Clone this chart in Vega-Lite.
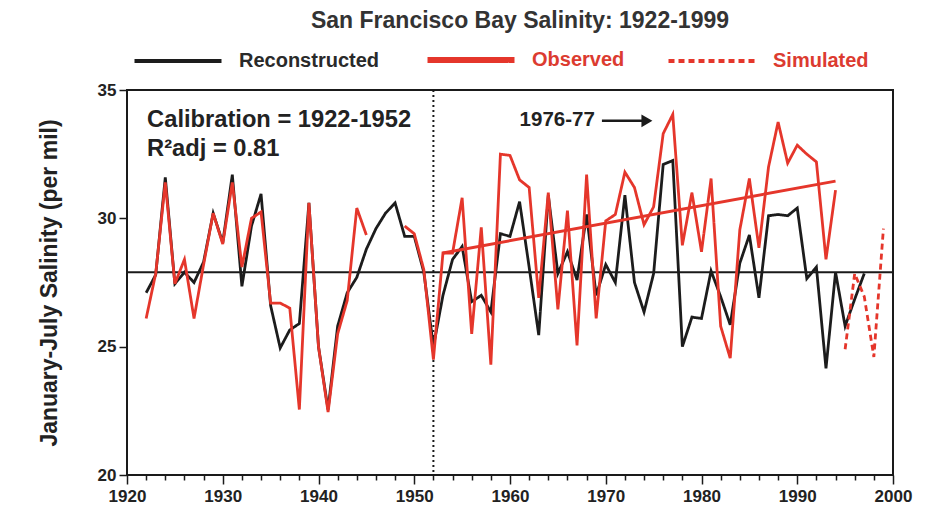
{
  "$schema": "https://vega.github.io/schema/vega-lite/v6.json",
  "width": 766,
  "height": 385,
  "autosize": {"type": "none"},
  "padding": {"left": 127, "top": 90, "right": 40, "bottom": 46},
  "background": "white",
  "config": {
    "font": "Liberation Sans",
    "view": {"stroke": "#1a1a1a", "strokeWidth": 2},
    "legend": {
      "symbolType": "stroke",
      "symbolSize": 7569,
      "symbolStrokeWidth": 4,
      "labelFontSize": 20,
      "labelFontWeight": "bold",
      "labelOffset": 51,
      "columnPadding": 35,
      "labelLimit": 300
    }
  },
  "title": {
    "text": "San Francisco Bay Salinity: 1922-1999",
    "fontSize": 23,
    "fontWeight": "bold",
    "color": "#333333",
    "anchor": "middle",
    "offset": 17,
    "dx": 10
  },
  "datasets": {
    "series": [
      {"year": 1922, "value": 27.1, "series": "Reconstructed", "seg": "a"},
      {"year": 1923, "value": 27.8, "series": "Reconstructed", "seg": "a"},
      {"year": 1924, "value": 31.6, "series": "Reconstructed", "seg": "a"},
      {"year": 1925, "value": 27.45, "series": "Reconstructed", "seg": "a"},
      {"year": 1926, "value": 27.9, "series": "Reconstructed", "seg": "a"},
      {"year": 1927, "value": 27.5, "series": "Reconstructed", "seg": "a"},
      {"year": 1928, "value": 28.3, "series": "Reconstructed", "seg": "a"},
      {"year": 1929, "value": 30.2, "series": "Reconstructed", "seg": "a"},
      {"year": 1930, "value": 29.05, "series": "Reconstructed", "seg": "a"},
      {"year": 1931, "value": 31.7, "series": "Reconstructed", "seg": "a"},
      {"year": 1932, "value": 27.35, "series": "Reconstructed", "seg": "a"},
      {"year": 1933, "value": 29.7, "series": "Reconstructed", "seg": "a"},
      {"year": 1934, "value": 30.95, "series": "Reconstructed", "seg": "a"},
      {"year": 1935, "value": 26.6, "series": "Reconstructed", "seg": "a"},
      {"year": 1936, "value": 24.95, "series": "Reconstructed", "seg": "a"},
      {"year": 1937, "value": 25.65, "series": "Reconstructed", "seg": "a"},
      {"year": 1938, "value": 25.9, "series": "Reconstructed", "seg": "a"},
      {"year": 1939, "value": 30.6, "series": "Reconstructed", "seg": "a"},
      {"year": 1940, "value": 25.0, "series": "Reconstructed", "seg": "a"},
      {"year": 1941, "value": 22.55, "series": "Reconstructed", "seg": "a"},
      {"year": 1942, "value": 25.8, "series": "Reconstructed", "seg": "a"},
      {"year": 1943, "value": 27.1, "series": "Reconstructed", "seg": "a"},
      {"year": 1944, "value": 27.7, "series": "Reconstructed", "seg": "a"},
      {"year": 1945, "value": 28.8, "series": "Reconstructed", "seg": "a"},
      {"year": 1946, "value": 29.6, "series": "Reconstructed", "seg": "a"},
      {"year": 1947, "value": 30.2, "series": "Reconstructed", "seg": "a"},
      {"year": 1948, "value": 30.6, "series": "Reconstructed", "seg": "a"},
      {"year": 1949, "value": 29.3, "series": "Reconstructed", "seg": "a"},
      {"year": 1950, "value": 29.3, "series": "Reconstructed", "seg": "a"},
      {"year": 1951, "value": 27.9, "series": "Reconstructed", "seg": "a"},
      {"year": 1952, "value": 25.0, "series": "Reconstructed", "seg": "a"},
      {"year": 1953, "value": 27.0, "series": "Reconstructed", "seg": "a"},
      {"year": 1954, "value": 28.4, "series": "Reconstructed", "seg": "a"},
      {"year": 1955, "value": 28.9, "series": "Reconstructed", "seg": "a"},
      {"year": 1956, "value": 26.75, "series": "Reconstructed", "seg": "a"},
      {"year": 1957, "value": 27.0, "series": "Reconstructed", "seg": "a"},
      {"year": 1958, "value": 26.35, "series": "Reconstructed", "seg": "a"},
      {"year": 1959, "value": 29.4, "series": "Reconstructed", "seg": "a"},
      {"year": 1960, "value": 29.3, "series": "Reconstructed", "seg": "a"},
      {"year": 1961, "value": 30.65, "series": "Reconstructed", "seg": "a"},
      {"year": 1962, "value": 28.1, "series": "Reconstructed", "seg": "a"},
      {"year": 1963, "value": 25.45, "series": "Reconstructed", "seg": "a"},
      {"year": 1964, "value": 30.9, "series": "Reconstructed", "seg": "a"},
      {"year": 1965, "value": 27.85, "series": "Reconstructed", "seg": "a"},
      {"year": 1966, "value": 28.7, "series": "Reconstructed", "seg": "a"},
      {"year": 1967, "value": 27.6, "series": "Reconstructed", "seg": "a"},
      {"year": 1968, "value": 30.15, "series": "Reconstructed", "seg": "a"},
      {"year": 1969, "value": 27.0, "series": "Reconstructed", "seg": "a"},
      {"year": 1970, "value": 28.2, "series": "Reconstructed", "seg": "a"},
      {"year": 1971, "value": 27.5, "series": "Reconstructed", "seg": "a"},
      {"year": 1972, "value": 30.9, "series": "Reconstructed", "seg": "a"},
      {"year": 1973, "value": 27.5, "series": "Reconstructed", "seg": "a"},
      {"year": 1974, "value": 26.35, "series": "Reconstructed", "seg": "a"},
      {"year": 1975, "value": 27.85, "series": "Reconstructed", "seg": "a"},
      {"year": 1976, "value": 32.1, "series": "Reconstructed", "seg": "a"},
      {"year": 1977, "value": 32.25, "series": "Reconstructed", "seg": "a"},
      {"year": 1978, "value": 25.0, "series": "Reconstructed", "seg": "a"},
      {"year": 1979, "value": 26.15, "series": "Reconstructed", "seg": "a"},
      {"year": 1980, "value": 26.1, "series": "Reconstructed", "seg": "a"},
      {"year": 1981, "value": 27.95, "series": "Reconstructed", "seg": "a"},
      {"year": 1982, "value": 26.95, "series": "Reconstructed", "seg": "a"},
      {"year": 1983, "value": 25.85, "series": "Reconstructed", "seg": "a"},
      {"year": 1984, "value": 28.25, "series": "Reconstructed", "seg": "a"},
      {"year": 1985, "value": 29.35, "series": "Reconstructed", "seg": "a"},
      {"year": 1986, "value": 26.9, "series": "Reconstructed", "seg": "a"},
      {"year": 1987, "value": 30.1, "series": "Reconstructed", "seg": "a"},
      {"year": 1988, "value": 30.15, "series": "Reconstructed", "seg": "a"},
      {"year": 1989, "value": 30.1, "series": "Reconstructed", "seg": "a"},
      {"year": 1990, "value": 30.4, "series": "Reconstructed", "seg": "a"},
      {"year": 1991, "value": 27.65, "series": "Reconstructed", "seg": "a"},
      {"year": 1992, "value": 28.1, "series": "Reconstructed", "seg": "a"},
      {"year": 1993, "value": 24.15, "series": "Reconstructed", "seg": "a"},
      {"year": 1994, "value": 27.9, "series": "Reconstructed", "seg": "a"},
      {"year": 1995, "value": 25.8, "series": "Reconstructed", "seg": "a"},
      {"year": 1996, "value": 26.85, "series": "Reconstructed", "seg": "a"},
      {"year": 1997, "value": 27.85, "series": "Reconstructed", "seg": "a"},
      {"year": 1922, "value": 26.1, "series": "Observed", "seg": "b"},
      {"year": 1923, "value": 27.85, "series": "Observed", "seg": "b"},
      {"year": 1924, "value": 31.4, "series": "Observed", "seg": "b"},
      {"year": 1925, "value": 27.45, "series": "Observed", "seg": "b"},
      {"year": 1926, "value": 28.4, "series": "Observed", "seg": "b"},
      {"year": 1927, "value": 26.1, "series": "Observed", "seg": "b"},
      {"year": 1928, "value": 28.2, "series": "Observed", "seg": "b"},
      {"year": 1929, "value": 30.2, "series": "Observed", "seg": "b"},
      {"year": 1930, "value": 29.0, "series": "Observed", "seg": "b"},
      {"year": 1931, "value": 31.4, "series": "Observed", "seg": "b"},
      {"year": 1932, "value": 28.1, "series": "Observed", "seg": "b"},
      {"year": 1933, "value": 30.0, "series": "Observed", "seg": "b"},
      {"year": 1934, "value": 30.25, "series": "Observed", "seg": "b"},
      {"year": 1935, "value": 26.7, "series": "Observed", "seg": "b"},
      {"year": 1936, "value": 26.7, "series": "Observed", "seg": "b"},
      {"year": 1937, "value": 26.5, "series": "Observed", "seg": "b"},
      {"year": 1938, "value": 22.55, "series": "Observed", "seg": "b"},
      {"year": 1939, "value": 30.6, "series": "Observed", "seg": "b"},
      {"year": 1940, "value": 25.0, "series": "Observed", "seg": "b"},
      {"year": 1941, "value": 22.45, "series": "Observed", "seg": "b"},
      {"year": 1942, "value": 25.5, "series": "Observed", "seg": "b"},
      {"year": 1943, "value": 26.8, "series": "Observed", "seg": "b"},
      {"year": 1944, "value": 30.4, "series": "Observed", "seg": "b"},
      {"year": 1945, "value": 29.35, "series": "Observed", "seg": "b"},
      {"year": 1949, "value": 29.7, "series": "Observed", "seg": "c"},
      {"year": 1950, "value": 29.4, "series": "Observed", "seg": "c"},
      {"year": 1951, "value": 28.0, "series": "Observed", "seg": "c"},
      {"year": 1952, "value": 24.5, "series": "Observed", "seg": "c"},
      {"year": 1953, "value": 28.65, "series": "Observed", "seg": "c"},
      {"year": 1954, "value": 28.65, "series": "Observed", "seg": "c"},
      {"year": 1955, "value": 30.8, "series": "Observed", "seg": "c"},
      {"year": 1956, "value": 25.5, "series": "Observed", "seg": "c"},
      {"year": 1957, "value": 29.65, "series": "Observed", "seg": "c"},
      {"year": 1958, "value": 24.3, "series": "Observed", "seg": "c"},
      {"year": 1959, "value": 32.5, "series": "Observed", "seg": "c"},
      {"year": 1960, "value": 32.45, "series": "Observed", "seg": "c"},
      {"year": 1961, "value": 31.5, "series": "Observed", "seg": "c"},
      {"year": 1962, "value": 31.2, "series": "Observed", "seg": "c"},
      {"year": 1963, "value": 26.9, "series": "Observed", "seg": "c"},
      {"year": 1964, "value": 31.0, "series": "Observed", "seg": "c"},
      {"year": 1965, "value": 26.45, "series": "Observed", "seg": "c"},
      {"year": 1966, "value": 30.3, "series": "Observed", "seg": "c"},
      {"year": 1967, "value": 25.05, "series": "Observed", "seg": "c"},
      {"year": 1968, "value": 31.7, "series": "Observed", "seg": "c"},
      {"year": 1969, "value": 26.1, "series": "Observed", "seg": "c"},
      {"year": 1970, "value": 29.9, "series": "Observed", "seg": "c"},
      {"year": 1971, "value": 30.15, "series": "Observed", "seg": "c"},
      {"year": 1972, "value": 31.8, "series": "Observed", "seg": "c"},
      {"year": 1973, "value": 31.2, "series": "Observed", "seg": "c"},
      {"year": 1974, "value": 29.75, "series": "Observed", "seg": "c"},
      {"year": 1975, "value": 30.45, "series": "Observed", "seg": "c"},
      {"year": 1976, "value": 33.3, "series": "Observed", "seg": "c"},
      {"year": 1977, "value": 34.05, "series": "Observed", "seg": "c"},
      {"year": 1978, "value": 28.95, "series": "Observed", "seg": "c"},
      {"year": 1979, "value": 31.0, "series": "Observed", "seg": "c"},
      {"year": 1980, "value": 28.7, "series": "Observed", "seg": "c"},
      {"year": 1981, "value": 31.55, "series": "Observed", "seg": "c"},
      {"year": 1982, "value": 25.8, "series": "Observed", "seg": "c"},
      {"year": 1983, "value": 24.55, "series": "Observed", "seg": "c"},
      {"year": 1984, "value": 29.55, "series": "Observed", "seg": "c"},
      {"year": 1985, "value": 31.55, "series": "Observed", "seg": "c"},
      {"year": 1986, "value": 28.85, "series": "Observed", "seg": "c"},
      {"year": 1987, "value": 32.0, "series": "Observed", "seg": "c"},
      {"year": 1988, "value": 33.75, "series": "Observed", "seg": "c"},
      {"year": 1989, "value": 32.15, "series": "Observed", "seg": "c"},
      {"year": 1990, "value": 32.85, "series": "Observed", "seg": "c"},
      {"year": 1991, "value": 32.5, "series": "Observed", "seg": "c"},
      {"year": 1992, "value": 32.2, "series": "Observed", "seg": "c"},
      {"year": 1993, "value": 28.4, "series": "Observed", "seg": "c"},
      {"year": 1994, "value": 31.1, "series": "Observed", "seg": "c"},
      {"year": 1995, "value": 24.9, "series": "Simulated", "seg": "d"},
      {"year": 1996, "value": 27.85, "series": "Simulated", "seg": "d"},
      {"year": 1997, "value": 26.95, "series": "Simulated", "seg": "d"},
      {"year": 1998, "value": 24.6, "series": "Simulated", "seg": "d"},
      {"year": 1999, "value": 29.6, "series": "Simulated", "seg": "d"}
    ]
  },
  "resolve": {"axis": {"x": "independent"}},
  "layer": [
    {
      "data": {"values": [{"mean": 27.9}]},
      "mark": {"type": "rule", "color": "#1a1a1a", "strokeWidth": 2},
      "encoding": {"y": {"field": "mean", "type": "quantitative", "scale": {"domain": [20, 35], "nice": false, "zero": false}}}
    },
    {
      "data": {"values": [{"year": 1952}]},
      "mark": {"type": "rule", "color": "#1a1a1a", "strokeWidth": 2, "strokeDash": [2, 3]},
      "encoding": {
        "x": {
          "field": "year", "type": "quantitative",
          "scale": {"domain": [1920, 2000], "nice": false, "zero": false},
          "axis": {"orient": "bottom", "values": [1922, 1924, 1926, 1928, 1932, 1934, 1936, 1938, 1942, 1944, 1946, 1948, 1952, 1954, 1956, 1958, 1962, 1964, 1966, 1968, 1972, 1974, 1976, 1978, 1982, 1984, 1986, 1988, 1992, 1994, 1996, 1998], "labels": false, "domain": false, "grid": false, "tickSize": 5, "tickWidth": 1.5, "tickColor": "#1a1a1a", "title": null}
        }
      }
    },
    {
      "data": {"name": "series"},
      "transform": [{"filter": "datum.series === 'Reconstructed'"}],
      "mark": {"type": "line", "strokeWidth": 2.8, "strokeJoin": "miter"},
      "encoding": {
        "x": {
          "field": "year", "type": "quantitative",
          "axis": {"orient": "bottom", "values": [1920, 1930, 1940, 1950, 1960, 1970, 1980, 1990, 2000], "format": "d", "domain": false, "grid": false, "tickSize": 9, "tickWidth": 1.5, "tickColor": "#1a1a1a", "labelFontSize": 17, "labelFontWeight": "bold", "labelColor": "#222222", "labelPadding": 4, "labelFlush": false, "title": null}
        },
        "y": {
          "field": "value", "type": "quantitative",
          "axis": {"values": [20, 25, 30, 35], "domain": false, "grid": false, "tickSize": 8, "tickWidth": 1.5, "tickColor": "#1a1a1a", "labelFontSize": 17, "labelFontWeight": "bold", "labelColor": "#222222", "labelPadding": 3, "title": "January-July Salinity (per mil)", "titleFontSize": 23, "titleFontWeight": "bold", "titleColor": "#222222", "titlePadding": 36}
        },
        "color": {
          "field": "series", "type": "nominal",
          "scale": {"domain": ["Reconstructed", "Observed", "Simulated"], "range": ["#1c1c1c", "#e5362b", "#e5362b"]},
          "legend": {
            "title": null, "orient": "none", "direction": "horizontal", "legendX": 41, "legendY": -40,
            "encode": {
              "labels": {"update": {"fill": {"signal": "datum.label === 'Reconstructed' ? '#2a2a2a' : '#dc3b30'"}}},
              "symbols": {"update": {"stroke": [{"test": "datum.label === 'Observed'", "value": "#3a3a3a"}, {"test": "datum.label === 'Simulated'", "value": "#e06a5a"}, {"value": "#2a2a2a"}], "strokeWidth": {"signal": "datum.label === 'Observed' ? 6 : 4"}}}
            }
          }
        },
        "strokeDash": {
          "field": "series", "type": "nominal",
          "scale": {"domain": ["Reconstructed", "Observed", "Simulated"], "range": [[1, 0], [1, 0], [6, 4]]},
          "legend": {"title": null, "orient": "none", "direction": "horizontal", "legendX": 41, "legendY": -40}
        },
        "detail": {"field": "seg"}
      }
    },
    {
      "data": {"name": "series"},
      "transform": [{"filter": "datum.series !== 'Reconstructed'"}],
      "mark": {"type": "line", "strokeWidth": 2.8, "strokeJoin": "miter"},
      "encoding": {
        "x": {"field": "year", "type": "quantitative", "axis": null},
        "y": {"field": "value", "type": "quantitative"},
        "color": {"field": "series", "type": "nominal"},
        "strokeDash": {"field": "series", "type": "nominal"},
        "detail": {"field": "seg"}
      }
    },
    {
      "data": {"values": [{"year": 1953, "value": 28.65}, {"year": 1994, "value": 31.45}]},
      "mark": {"type": "line", "color": "#e5362b", "strokeWidth": 3},
      "encoding": {
        "x": {"field": "year", "type": "quantitative", "axis": null},
        "y": {"field": "value", "type": "quantitative"}
      }
    },
    {
      "data": {"values": [
        {"label": "Calibration = 1922-1952", "year": 1922.1, "value": 33.85},
        {"label": "R²adj = 0.81", "year": 1922.1, "value": 32.7}
      ]},
      "mark": {"type": "text", "align": "left", "baseline": "middle", "fontSize": 23.7, "fontWeight": "bold", "color": "#222222"},
      "encoding": {
        "x": {"field": "year", "type": "quantitative", "axis": null},
        "y": {"field": "value", "type": "quantitative"},
        "text": {"field": "label"}
      }
    },
    {
      "data": {"values": [{"label": "1976-77", "year": 1961.0, "value": 33.85}]},
      "mark": {"type": "text", "align": "left", "baseline": "middle", "fontSize": 20.5, "fontWeight": "bold", "color": "#222222"},
      "encoding": {
        "x": {"field": "year", "type": "quantitative", "axis": null},
        "y": {"field": "value", "type": "quantitative"},
        "text": {"field": "label"}
      }
    },
    {
      "data": {"values": [{"x1": 1969.6, "x2": 1974.4, "value": 33.8}]},
      "mark": {"type": "rule", "color": "#1a1a1a", "strokeWidth": 2.5},
      "encoding": {
        "x": {"field": "x1", "type": "quantitative", "axis": null},
        "x2": {"field": "x2"},
        "y": {"field": "value", "type": "quantitative"}
      }
    },
    {
      "data": {"values": [{"year": 1974.3, "value": 33.8}]},
      "mark": {"type": "point", "shape": "triangle-right", "filled": true, "color": "#1a1a1a", "size": 160, "opacity": 1},
      "encoding": {
        "x": {"field": "year", "type": "quantitative", "axis": null},
        "y": {"field": "value", "type": "quantitative"}
      }
    }
  ]
}
